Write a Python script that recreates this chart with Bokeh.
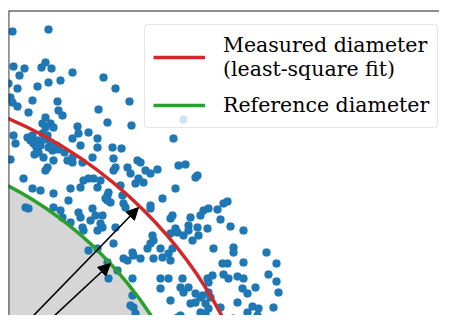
from bokeh.plotting import figure
from bokeh.models import Range1d, Arrow, NormalHead, Legend, LegendItem, ColumnDataSource, Span
from bokeh.embed import file_html
from bokeh.resources import INLINE
import math

# measurement points (arbitrary length units, circle centre at origin)
dot_x = [178, 214, 179, 190, 207, 211, 217, 185, 238, 269, 183, 203, 214, 226, 174, 176, 183, 178, 198, 223,
         194, 224, 228, 211, 264, 273, 281, 295, 297, 349, 208, 179, 181, 176, 193, 198, 199, 203, 206, 211,
         216, 219, 213, 216, 218, 204, 209, 211, 213, 219, 243, 244, 254, 263, 238, 246, 238, 233, 238, 248,
         258, 263, 249, 254, 259, 266, 263, 189, 198, 206, 219, 236, 246, 234, 219, 191, 194, 226, 228, 244,
         246, 258, 261, 256, 266, 273, 274, 248, 236, 339, 278, 287, 279, 281, 279, 293, 296, 303, 306, 311,
         316, 323, 304, 301, 309, 286, 344, 351, 363, 361, 341, 328, 273, 271, 276, 288, 289, 291, 316, 316,
         268, 336, 338, 356, 366, 369, 373, 341, 354, 268, 389, 393, 383, 374, 386, 396, 409, 249, 263, 254,
         263, 273, 274, 233, 274, 279, 281, 289, 293, 298, 306, 299, 283, 298, 316, 313, 318, 319, 326, 319,
         328, 334, 336, 338, 336, 343, 349, 354, 358, 363, 364, 326, 334, 326, 336, 348, 346, 354, 349, 361,
         366, 361, 356, 373, 374, 374, 366, 363, 343, 346, 336, 299, 301, 296, 298, 346, 356, 371, 379, 399,
         399, 432, 388, 393, 409, 442, 389, 394, 403, 409, 434, 442, 378, 374, 408, 413, 421, 444, 368, 376,
         371, 386, 403, 418, 424, 439, 371, 413, 423, 411, 426, 373, 399, 396, 426, 408, 381, 488,
         196, 202, 210, 208, 214, 222, 200, 224, 230]
dot_y = [489, 491, 454, 452, 453, 458, 452, 445, 448, 443, 432, 434, 438, 440, 437, 423, 414, 418, 420, 419,
         408, 410, 405, 403, 411, 398, 432, 419, 395, 401, 397, 385, 377, 361, 383, 385, 377, 380, 375, 393,
         397, 393, 385, 378, 370, 368, 363, 350, 353, 360, 394, 387, 388, 382, 382, 375, 363, 360, 358, 358,
         363, 373, 340, 342, 342, 340, 333, 342, 332, 330, 327, 332, 333, 320, 313, 313, 312, 310, 303, 308,
         303, 312, 305, 300, 297, 320, 328, 293, 298, 382, 373, 372, 362, 353, 350, 353, 347, 360, 358, 350,
         347, 351, 342, 337, 338, 335, 355, 356, 345, 343, 332, 322, 325, 322, 318, 325, 317, 313, 315, 312,
         305, 302, 305, 303, 305, 310, 292, 292, 295, 293, 317, 319, 311, 312, 301, 294, 290, 290, 290, 270,
         272, 258, 242, 196, 198, 277, 293, 262, 260, 268, 262, 265, 250, 242, 277, 272, 285, 280, 272, 262,
         263, 267, 260, 272, 287, 288, 285, 290, 280, 293, 285, 242, 242, 232, 220, 242, 233, 233, 228, 227,
         223, 218, 217, 242, 228, 212, 208, 198, 203, 205, 195, 213, 207, 215, 225, 192, 192, 195, 272, 273,
         268, 268, 257, 257, 258, 257, 246, 242, 244, 242, 246, 239, 245, 238, 232, 227, 233, 228, 225, 223,
         217, 213, 218, 214, 212, 213, 207, 208, 205, 200, 200, 198, 202, 198, 195, 191, 192, 191,
         380, 373, 381, 387, 373, 375, 366, 371, 368]

centre_x = [0]
centre_y = [0]
reference_radius = [377]
measured_radius = [438]

arrow_start_x = [0, 0]
arrow_start_y = [0, 0]
arrow_end_x = [304, 276]
arrow_end_y = [313, 257]

legend_labels = ["Measured diameter\n(least-square fit)", "Reference diameter"]

X0, X1, Y0, Y1 = 174, 605, 205, 510

p = figure(width=439, height=315, output_backend="svg", toolbar_location=None,
           x_range=Range1d(X0, X1), y_range=Range1d(Y0, Y1),
           x_axis_location=None, y_axis_location=None, title=None,
           min_border_left=8, min_border_top=10, min_border_right=0, min_border_bottom=0)
p.xgrid.visible = False
p.ygrid.visible = False
p.outline_line_color = None
p.border_fill_color = "white"
p.background_fill_color = "white"

# reference disk
p.circle(x=centre_x, y=centre_y, radius=reference_radius, fill_color="#d6d6d6", line_color=None)

# points
p.scatter(dot_x, dot_y, size=8, fill_color="#1f77b4", line_color="#1f77b4", line_width=0.3)

# circles
r_meas = p.arc(x=centre_x, y=centre_y, radius=measured_radius, start_angle=0, end_angle=2 * math.pi,
               line_color="#d62728", line_width=3.5)
r_ref = p.arc(x=centre_x, y=centre_y, radius=reference_radius, start_angle=0, end_angle=2 * math.pi,
              line_color="#2ca02c", line_width=3.5)

arrow_src = ColumnDataSource(dict(x0=arrow_start_x, y0=arrow_start_y, x1=arrow_end_x, y1=arrow_end_y))
p.add_layout(Arrow(end=NormalHead(size=12, fill_color="black", line_color="black", line_width=1),
                   x_start="x0", y_start="y0", x_end="x1", y_end="y1", source=arrow_src,
                   line_color="black", line_width=1.6))

# axes spines (left and top only visible in this crop)
p.add_layout(Span(location=X0, dimension="height", line_color="#222222", line_width=1.8))
p.add_layout(Span(location=Y1, dimension="width", line_color="#222222", line_width=1.8))

legend = Legend(items=[LegendItem(label=legend_labels[0], renderers=[r_meas]),
                       LegendItem(label=legend_labels[1], renderers=[r_ref])],
                location=(136, 187))
legend.label_text_font = "DejaVu Serif"
legend.label_text_font_size = "20.5px"
legend.label_text_color = "black"
legend.glyph_width = 52
legend.glyph_height = 28
legend.label_height = 28
legend.label_standoff = 18
legend.padding = 8
legend.spacing = 10
legend.border_line_color = "#cccccc"
legend.border_line_width = 1
legend.background_fill_alpha = 0.8
if "border_radius" in Legend.properties():
    legend.border_radius = 4
p.add_layout(legend)

open("out.html", "w").write(file_html(p, INLINE))
